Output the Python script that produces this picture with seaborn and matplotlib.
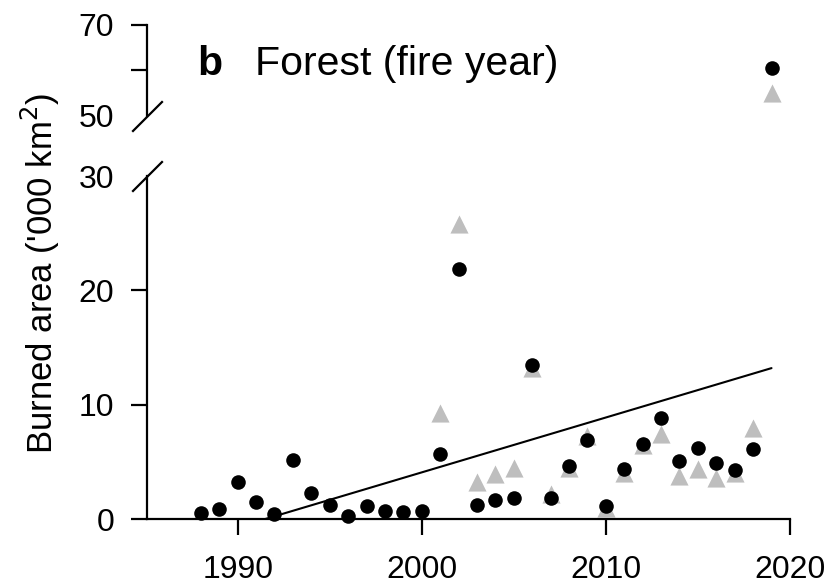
import numpy as np
import pandas as pd
import matplotlib.pyplot as plt
import seaborn as sns

# burned forest area ('000 km2) per fire year
years = list(range(1988, 2020))
black_vals = [0.5, 0.9, 3.2, 1.5, 0.4, 5.2, 2.3, 1.2, 0.3, 1.1, 0.7, 0.6, 0.7,
              5.7, 21.9, 1.2, 1.7, 1.8, 13.5, 1.8, 4.6, 6.9, 1.1, 4.4, 6.6, 8.8,
              5.1, 6.2, 4.9, 4.3, 6.1, 60.6]
grey_years = list(range(2001, 2020))
grey_vals = [9.3, 25.8, 3.2, 3.9, 4.5, 13.2, 2.2, 4.5, 7.3, 1.0, 4.0, 6.5, 7.4,
             3.8, 4.4, 3.6, 4.0, 8.0, 55.0]
trend_years = [1991.5, 2019]
trend_vals = [0.0, 13.2]

xticks = [1990, 2000, 2010, 2020]
low_ticks = [0, 10, 20, 30]
high_ticks = [50, 60, 70]
high_labels = ['50', '', '70']

sns.set_style('ticks')
plt.rcParams['font.family'] = ['Liberation Sans', 'DejaVu Sans']
plt.rcParams.update({'text.color': 'black', 'axes.edgecolor': 'black',
                     'xtick.color': 'black', 'ytick.color': 'black',
                     'axes.labelcolor': 'black'})

black = pd.DataFrame({'year': years, 'area': black_vals})
grey = pd.DataFrame({'year': grey_years, 'area': grey_vals})

fig = plt.figure(figsize=(8.33, 5.88), dpi=100)
ax = fig.add_axes([0.1761, 0.1173, 0.8239, 0.5833])
ax_top = fig.add_axes([0.1761, 0.8034, 0.8239, 0.1541])

xlim = (1985.06, 2022.34)
grey_col = '#BEBEBE'

# lower panel (0-30)
sns.scatterplot(data=grey[grey.area <= 30], x='year', y='area', ax=ax, marker='^',
                color=grey_col, s=170, linewidth=0, clip_on=False, zorder=2, legend=False)
sns.scatterplot(data=black[black.area <= 30], x='year', y='area', ax=ax, marker='o',
                color='black', s=110, linewidth=0, clip_on=False, zorder=3, legend=False)
sns.lineplot(x=trend_years, y=trend_vals, ax=ax, color='black', lw=1.5, zorder=4)

# upper panel (50-70)
sns.scatterplot(data=grey[grey.area >= 50], x='year', y='area', ax=ax_top, marker='^',
                color=grey_col, s=170, linewidth=0, clip_on=False, zorder=2, legend=False)
sns.scatterplot(data=black[black.area >= 50], x='year', y='area', ax=ax_top, marker='o',
                color='black', s=110, linewidth=0, clip_on=False, zorder=3, legend=False)

ax.set_xlim(*xlim)
ax.set_ylim(0, 30)
ax_top.set_xlim(*xlim)
ax_top.set_ylim(50, 70)

for a in (ax, ax_top):
    a.set_xlabel('')
    a.set_ylabel('')
    for s in ('top', 'right'):
        a.spines[s].set_visible(False)
    for s in a.spines.values():
        s.set_linewidth(1.6)
    a.tick_params(direction='out', length=11.5, width=1.6, labelsize=23, pad=12)
ax.tick_params(axis='x', pad=14.5)

ax.spines['bottom'].set_bounds(xlim[0], 2020)
ax.spines['left'].set_bounds(0, 30)
ax.set_xticks(xticks)
ax.set_yticks(low_ticks)
ax.yaxis.get_major_ticks()[-1].tick1line.set_visible(False)

ax_top.spines['bottom'].set_visible(False)
ax_top.spines['left'].set_bounds(50, 70)
ax_top.set_xticks([])
ax_top.set_yticks(high_ticks)
ax_top.set_yticklabels(high_labels)
ax_top.yaxis.get_major_ticks()[0].tick1line.set_visible(False)

# axis break slashes
slash = [(-1, -1), (1, 1)]
ax.plot([0], [1], transform=ax.transAxes, marker=slash, markersize=22,
        mew=1.6, color='black', clip_on=False)
ax_top.plot([0], [0], transform=ax_top.transAxes, marker=slash, markersize=22,
            mew=1.6, color='black', clip_on=False)

fig.text(40 / 833, 1 - 273 / 588, "Burned area ('000 km$^2$)", rotation=90,
         ha='center', va='center', fontsize=25)
fig.text(197 / 833, 1 - 75 / 588, 'b', fontsize=29.5, fontweight='bold', va='baseline')
fig.text(255 / 833, 1 - 75 / 588, 'Forest (fire year)', fontsize=29.5, va='baseline')

fig.savefig('out.png', dpi=100)
